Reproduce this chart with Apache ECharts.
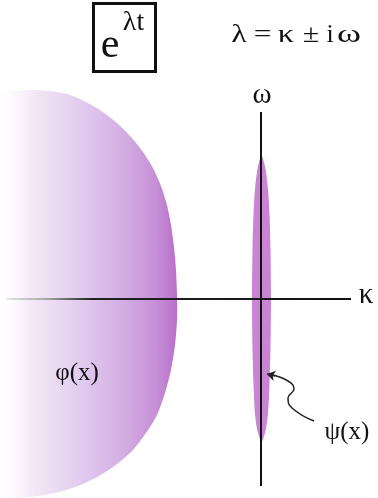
<!DOCTYPE html>
<html>
<head>
<meta charset="utf-8">
<script src="https://cdn.jsdelivr.net/npm/echarts@6/dist/echarts.min.js"></script>
<style>
  html, body { margin: 0; padding: 0; background: #fff; }
  #chart { width: 378px; height: 498px; }
</style>
</head>
<body>
<div id="chart"></div>
<script>
// data units: 1 unit = 1 px, origin where the kappa and omega axes cross
const phiOutline = [
  [-275, 207], [-261, 207], [-231, 209], [-211, 208], [-194, 205], [-179, 199],
  [-161, 189], [-144, 176], [-130, 162], [-118, 147], [-108, 131], [-100, 113],
  [-94, 94], [-90, 74], [-87, 52], [-85, 29], [-84, 4], [-84, -21], [-86, -46],
  [-90, -71], [-96, -94], [-104, -116], [-115, -134], [-128, -151], [-144, -165],
  [-162, -177], [-183, -187], [-206, -194], [-231, -198], [-261, -200], [-275, -200]
]
const psiOutline = [
  [0.5, 144], [4.5, 130], [7, 110], [8.5, 85], [9.5, 50], [10, 0],
  [9.5, -50], [8.5, -85], [7, -115], [4.5, -132], [0.5, -143],
  [-3.5, -132], [-6, -115], [-7.5, -85], [-8.5, -50], [-9, 0],
  [-8.5, 50], [-7.5, 85], [-6, 110], [-3.5, 130]
]
const kappaAxis = [[-254, 0], [90, 0]]
const omegaAxis = [[0, 187], [0, -187]]
const arrowCurve = [[53, -122], [31, -109], [27, -99], [33, -90], [27, -82], [9, -75.5]]
const arrowTip = [[14, -77], [6, -75]]

// the relation λ = κ ± iω, one glyph at a time
const relationGlyphs = ["λ", "=", "κ", "±", "i", "ω"]
const relationX = [239, 262.5, 286, 311, 330, 349]
const relationStretch = [1.2, 1.2, 1.25, 1.15, 1, 1.4]

const serif = "Liberation Serif"

const chart = echarts.init(document.getElementById("chart"))

function shapeSeries(points, fillFn) {
  return {
    type: "custom",
    data: points,
    silent: true,
    renderItem: function (params, api) {
      if (params.dataIndex !== 0) return null
      const pts = points.map((p) => api.coord(p))
      return {
        type: "polygon",
        shape: { points: pts, smooth: 0.25 },
        style: { fill: fillFn(api), stroke: null }
      }
    }
  }
}

function label(text, x, y, size, stretch) {
  return {
    type: "text", x: x, y: y, z: 100,
    scaleX: stretch || 1,
    style: {
      text: text, fontFamily: serif, fontSize: size, fill: "#111",
      align: "center", verticalAlign: "middle"
    }
  }
}

const option = {
  animation: false,
  backgroundColor: "#fff",
  grid: { left: 0, right: 0, top: 0, bottom: 0 },
  xAxis: { type: "value", min: -261, max: 117, show: false },
  yAxis: { type: "value", min: -199, max: 299, show: false },
  series: [
    shapeSeries(phiOutline, function (api) {
      const a = api.coord([-261, 0])
      const b = api.coord([-84, 0])
      return new echarts.graphic.LinearGradient(a[0], 0, b[0], 0, [
        { offset: 0, color: "#ffffff" },
        { offset: 0.06, color: "#fdfbfe" },
        { offset: 0.2, color: "#f3e7f6" },
        { offset: 0.45, color: "#e1ccef" },
        { offset: 0.7, color: "#d4ade3" },
        { offset: 0.88, color: "#c690d7" },
        { offset: 1, color: "#b96fc9" }
      ], true)
    }),
    shapeSeries(psiOutline, function () { return "#c984d3" }),
    {
      type: "line",
      data: kappaAxis,
      symbol: "none",
      silent: true,
      lineStyle: {
        width: 2,
        color: new echarts.graphic.LinearGradient(0, 0, 1, 0, [
          { offset: 0, color: "#e6e6e6" },
          { offset: 0.12, color: "#a8a8a8" },
          { offset: 0.25, color: "#222" },
          { offset: 1, color: "#111" }
        ])
      }
    },
    {
      type: "line",
      data: omegaAxis,
      symbol: "none",
      silent: true,
      lineStyle: { width: 2, color: "#111" }
    },
    {
      type: "line",
      data: arrowCurve,
      symbol: "none",
      smooth: 0.5,
      silent: true,
      lineStyle: { width: 1.5, color: "#222" }
    },
    {
      type: "lines",
      coordinateSystem: "cartesian2d",
      data: [{ coords: arrowTip }],
      symbol: ["none", "arrow"],
      symbolSize: 8,
      silent: true,
      lineStyle: { width: 1.5, color: "#222", opacity: 1 }
    }
  ],
  graphic: [
    {
      type: "rect", z: 100,
      shape: { x: 93.5, y: 3.5, width: 62, height: 68 },
      style: { fill: "none", stroke: "#111", lineWidth: 3 }
    },
    label("e", 110, 46, 42),
    label("λt", 133.5, 23, 28),
    ...relationGlyphs.map((g, i) => label(g, relationX[i], 35, 26, relationStretch[i])),
    label("ω", 262, 95, 29),
    label("κ", 366, 295, 29),
    label("φ(x)", 77, 373, 25),
    label("ψ(x)", 347, 432, 25)
  ]
}

chart.setOption(option)
</script>
</body>
</html>
